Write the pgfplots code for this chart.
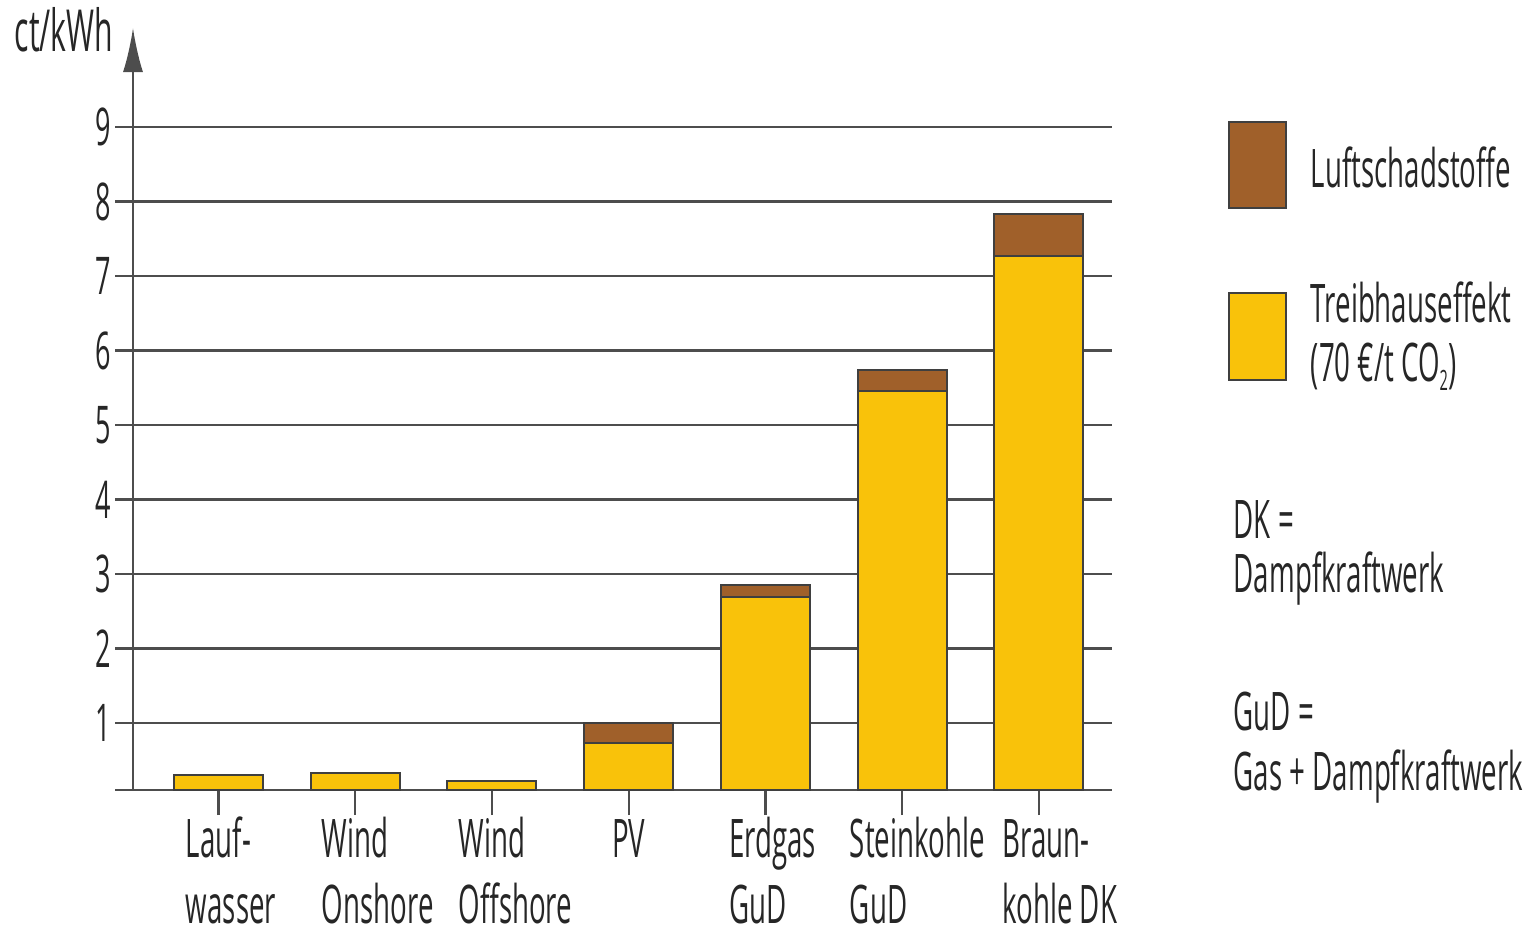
\documentclass[border=0pt]{standalone}
\usepackage{fontspec}
\setmainfont{Open Sans}[FakeStretch=0.52]
\usepackage{pgfplots}
\pgfplotsset{compat=1.18}
\usetikzlibrary{arrows.meta}
\definecolor{gelb}{HTML}{F9C20A}
\definecolor{braun}{HTML}{A0602A}
\definecolor{rand}{HTML}{3F3F3F}
\definecolor{gitter}{HTML}{4D4D4D}
\newcommand\lab[3][0pt]{\setbox0\hbox{#2}\makebox[\wd0][l]{\hspace*{#1}\begin{tabular}[t]{@{}l@{}}#2\\#3\end{tabular}}}
\newcommand\labf{\fontsize{13.3}{16.5}\selectfont}
\begin{document}
\begin{tikzpicture}
\useasboundingbox (-33.25pt,-35.25pt) rectangle (351pt,197.5pt);
\begin{axis}[
  scale only axis, width=244.75pt, height=165.75pt,
  xmin=-0.625, xmax=6.534, ymin=0.1, ymax=9,
  ybar stacked, bar width=22.25pt,
  axis x line*=bottom, axis y line*=left,
  x axis line style={draw=gitter, line width=0.6pt, shorten <=-4.5pt, -},
  y axis line style={draw=gitter, line width=0.5pt, shorten >=-24.75pt, -{Latex[length=11pt,width=5pt]}},
  ytick={1,2,...,9}, xtick={0,...,6},
  xticklabels={{\lab{Lauf-}{wasser}},{\lab{Wind}{Onshore}},{\lab{Wind}{Offshore}},{\lab{PV}{}},{\lab[1.75pt]{Erdgas}{GuD}},{\lab[3.75pt]{Steinkohle}{GuD}},{\lab[1.75pt]{Braun-}{kohle DK}}},
  ymajorgrids, grid style={draw=gitter, line width=0.6pt},
  tick align=outside, major tick length=4.5pt,
  tick style={draw=gitter, line width=0.6pt},
  xtick style={/pgfplots/major tick length=6.25pt},
  /pgf/number format/assume math mode=true,
  yticklabel style={font=\fontsize{13}{15}\selectfont, text=black!85, xshift=2.5pt},
  xticklabel style={font=\labf, text=black!85, anchor=north, inner sep=0pt, yshift=-0.5pt},
  clip=true,
]
\addplot[fill=gelb, draw=rand, line width=0.5pt] coordinates {(0,0.30) (1,0.33) (2,0.22) (3,0.73) (4,2.69) (5,5.45) (6,7.27)};
\addplot[fill=braun, draw=rand, line width=0.5pt] coordinates {(0,0) (1,0) (2,0) (3,0.27) (4,0.16) (5,0.29) (6,0.56)};
\end{axis}
\node[anchor=base west, inner sep=0pt, font=\fontsize{14.5}{16}\selectfont, text=black!85] at (-29.75pt,184.5pt) {ct/kWh};
\filldraw[fill=braun, draw=rand, line width=0.5pt] (274pt,145.5pt) rectangle (288.25pt,167pt);
\filldraw[fill=gelb, draw=rand, line width=0.5pt] (274pt,102.5pt) rectangle (288.25pt,124.25pt);
\begin{scope}[every node/.style={anchor=base west, inner sep=0pt, font=\labf, text=black!85}]
\node at (294.25pt,150.5pt) {Luftschadstoffe};
\node at (294.25pt,116.8pt) {Treibhauseffekt};
\node at (294.25pt,102pt) {(70 €/t CO\raisebox{-2.2pt}{\fontsize{7}{8}\selectfont 2})};
\node at (275pt,63pt) {DK =};
\node at (275pt,49.5pt) {Dampfkraftwerk};
\node at (275pt,15pt) {GuD =};
\node at (275pt,0pt) {Gas + Dampfkraftwerk};
\end{scope}
\end{tikzpicture}
\end{document}
